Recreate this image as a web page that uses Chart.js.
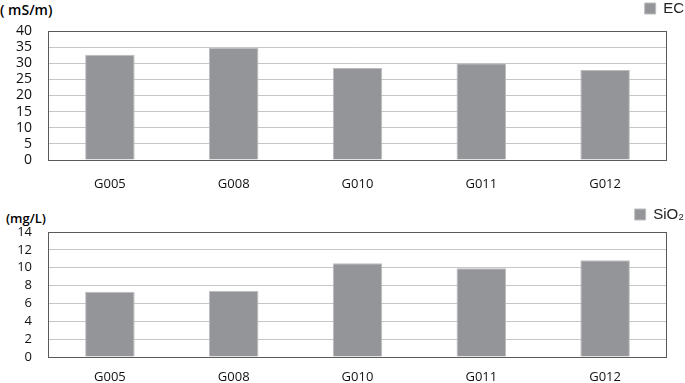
<!DOCTYPE html>
<html>
<head>
<meta charset="utf-8">
<script src="https://cdn.jsdelivr.net/npm/chart.js@4.4.1/dist/chart.umd.min.js"></script>
<style>
  html, body { margin: 0; padding: 0; background: #fff; }
  body { width: 685px; height: 383px; position: relative; overflow: hidden; }
  .unit { position: absolute; font-family: 'Open Sans', sans-serif; font-weight: 600; color: #000; white-space: nowrap; }
  canvas { position: absolute; left: 0; }
</style>
</head>
<body>
<div class="unit" id="unitTop" style="left:0px; top:0px; font-size:14px;">( mS/m)</div>
<div class="unit" id="unitBottom" style="left:6px; top:209px; font-size:13px;">(mg/L)</div>
<canvas id="ecChart" width="685" height="192" style="top:0px"></canvas>
<canvas id="sioChart" width="685" height="191" style="top:192px"></canvas>
<script>
// wells sampled
const wells = ['G005', 'G008', 'G010', 'G011', 'G012'];
// electrical conductivity, mS/m
const ecValues = [32.6, 34.7, 28.5, 30.0, 27.9];
// silica, mg/L
const sio2Values = [7.3, 7.4, 10.5, 9.95, 10.85];

const ecTicks = { max: 40, step: 5 };
const sioTicks = { max: 14, step: 2 };

const barGrey = '#939598';
const barEdge = '#bdbdbf';
const gridGrey = '#c6c6c6';

// draws the dark frame round the plot area
const frame = {
  id: 'frame',
  afterDraw(chart) {
    const a = chart.chartArea;
    const ctx = chart.ctx;
    ctx.save();
    ctx.strokeStyle = '#5a5a5a';
    ctx.lineWidth = 1;
    ctx.strokeRect(Math.round(a.left) + 0.5, Math.round(a.top) + 0.5,
      Math.round(a.right - a.left) - 1, Math.round(a.bottom - a.top));
    ctx.restore();
  }
};

function makeChart(id, label, values, ticks, opts) {
  const ctx = document.getElementById(id).getContext('2d');
  return new Chart(ctx, {
    type: 'bar',
    data: {
      labels: wells,
      datasets: [{
        label: label,
        data: values,
        backgroundColor: barGrey,
        borderColor: barEdge,
        borderWidth: 1,
        barPercentage: 0.4,
        categoryPercentage: 1.0
      }]
    },
    options: {
      responsive: false,
      animation: false,
      layout: { padding: { top: opts.padTop, left: 0, right: 0, bottom: 0 } },
      plugins: {
        legend: {
          position: 'top',
          align: 'end',
          labels: {
            boxWidth: 11,
            boxHeight: 11,
            padding: 1,
            color: '#222',
            font: { family: "'Liberation Sans', Arial, sans-serif", size: 15 }
          }
        },
        tooltip: { enabled: false }
      },
      scales: {
        x: {
          grid: { display: false },
          border: { display: false },
          ticks: {
            color: '#111',
            padding: opts.xPad,
            font: { family: "'Open Sans', sans-serif", size: 13 }
          },
          afterFit: s => { s.height = opts.xHeight; }
        },
        y: {
          min: 0,
          max: ticks.max,
          ticks: {
            stepSize: ticks.step,
            autoSkip: false,
            color: '#111',
            padding: 16,
            font: { family: "'Open Sans', sans-serif", size: opts.yFont }
          },
          grid: { color: gridGrey, lineWidth: 1, drawTicks: false },
          border: { display: false },
          afterFit: s => { s.width = 48; }
        },
        // spacers that hold the plot area in place
        xTop: {
          type: 'linear',
          position: 'top',
          grid: { display: false },
          border: { display: false },
          ticks: { display: false },
          afterFit: s => { s.height = opts.topGap; }
        },
        yRight: {
          type: 'linear',
          position: 'right',
          grid: { display: false },
          border: { display: false },
          ticks: { display: false },
          afterFit: s => { s.width = 18; }
        }
      }
    },
    plugins: [frame]
  });
}

makeChart('ecChart', 'EC', ecValues, ecTicks,
  { padTop: 0, topGap: 5, xHeight: 32, xPad: 8, yFont: 14 });
makeChart('sioChart', 'SiO\u2082', sio2Values, sioTicks,
  { padTop: 14, topGap: 0, xHeight: 26, xPad: 4, yFont: 13 });
</script>
</body>
</html>
